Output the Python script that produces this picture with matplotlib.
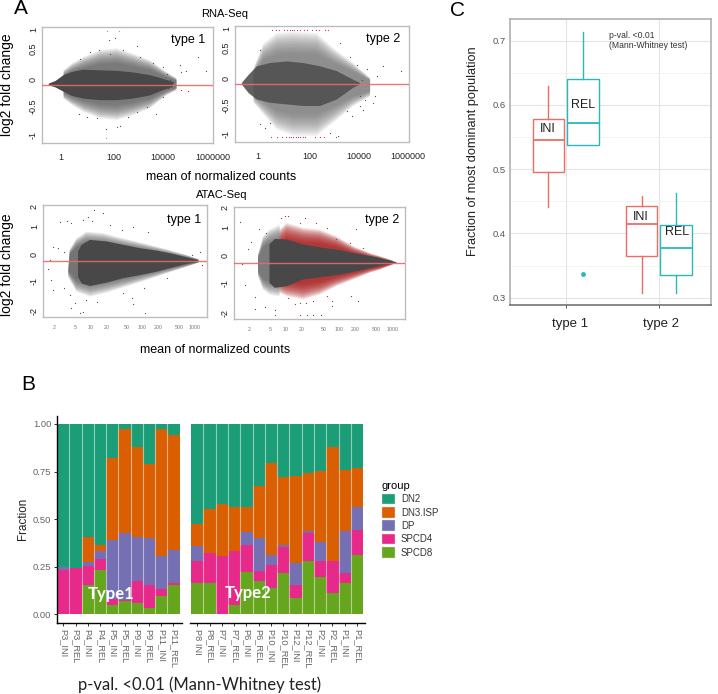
import matplotlib
matplotlib.use("Agg")
import matplotlib.pyplot as plt
from matplotlib.patches import Patch
from matplotlib.transforms import ScaledTranslation
import numpy as np

plt.rcParams['font.family'] = ['Liberation Sans', 'DejaVu Sans']

W, H = 718, 694

# ---- MA plots: outlines of the dense clouds (log10 mean, log2 fold change) ----
rna1_core_x = [-0.51, -0.23, 0.11, 0.46, 0.94, 1.63, 2.32, 3.0, 3.7, 4.25, 4.66]
rna1_core_top = [0.01, 0.06, 0.17, 0.23, 0.27, 0.26, 0.25, 0.22, 0.17, 0.10, 0.04]
rna1_core_bot = [-0.02, -0.06, -0.14, -0.22, -0.27, -0.30, -0.30, -0.27, -0.21, -0.11, -0.05]
rna1_halo_x = [0.11, 0.46, 0.94, 1.63, 2.32, 3.0, 3.7, 4.38, 4.8]
rna1_halo_top = [0.26, 0.39, 0.51, 0.64, 0.67, 0.57, 0.45, 0.23, 0.11]
rna1_halo_bot = [-0.27, -0.39, -0.52, -0.64, -0.67, -0.58, -0.45, -0.21, -0.11]
rna1_pts_x = [2.0, 2.25, 3.17, 4.94, 5.70, 5.0, 5.21, 6.04, 4.66, 5.28, 5.0, 0.76, 1.88, 2.32, 2.46, 1.49, 3.97, 3.56,
              2.8, 3.14, 1.08, 1.56, 2.04, 2.59, 3.28, 3.83, 4.25, 0.8, 1.21, 4.39, 4.52, 4.46, 4.25]
rna1_pts_y = [0.83, 0.87, 0.71, 0.36, 0.51, 0.23, 0.25, 0.24, 0.04, -0.12, -0.11, -0.55, -0.83, -0.80, -0.79, -0.64,
              -0.55, -0.42, -0.61, -0.52, -0.61, 0.64, 0.57, 0.64, 0.51, 0.39, 0.32, 0.48, 0.60, 0.2, 0.07, -0.08, -0.24]
rna1_red_x = [1.90, 2.43, 1.88]
rna1_red_y = [1.0, 1.0, -1.0]

rna2_core_x = [-0.68, -0.39, -0.04, 0.52, 1.23, 1.93, 2.63, 3.34, 4.04, 4.32]
rna2_core_top = [0.01, 0.16, 0.32, 0.38, 0.41, 0.38, 0.32, 0.23, 0.07, 0.01]
rna2_core_bot = [-0.02, -0.18, -0.30, -0.36, -0.39, -0.42, -0.42, -0.30, -0.08, -0.02]
rna2_halo_x = [-0.18, 0.24, 0.80, 1.51, 2.49, 3.2, 4.04, 4.75]
rna2_halo_top = [0.29, 0.75, 0.94, 0.97, 0.94, 0.66, 0.38, 0.10]
rna2_halo_bot = [-0.36, -0.58, -0.86, -0.98, -0.98, -0.73, -0.42, -0.24]
rna2_pts_x = [5.31, 6.08, 5.03, 4.89, 4.96, 4.46, 4.32, 3.41, 3.06, 0.1, 0.31, 0.52, 3.48, 3.9, 4.18, 4.6, 4.39, 0.1,
              3.76, 3.97, 4.32, 4.53]
rna2_pts_y = [0.32, 0.23, 0.13, -0.36, -0.24, -0.49, -0.24, -0.98, -0.92, -0.76, -0.83, -0.73, 0.75, 0.5, 0.35, 0.26,
              0.07, 0.63, -0.52, -0.61, -0.42, -0.3]
rna2_red_top_x = [0.59, 0.75, 0.9, 1.1, 1.25, 1.35, 1.45, 1.55, 1.65, 1.8, 1.95, 2.1, 2.3, 2.45, 2.6, 2.85, 2.95]
rna2_red_bot_x = [0.55, 0.8, 1.0, 1.2, 1.3, 1.4, 1.5, 1.6, 1.7, 1.8, 1.9, 2.0, 2.4, 2.65, 2.8, 3.3]

atac1_core_top_x = [0.76, 0.83, 0.99, 1.31, 1.63, 1.95, 2.27, 2.59, 2.85, 3.05]
atac1_core_top = [0.37, 0.63, 0.82, 0.76, 0.63, 0.50, 0.41, 0.28, 0.15, 0.05]
atac1_core_bot = [-0.59, -0.85, -0.95, -0.82, -0.65, -0.53, -0.40, -0.23, -0.10, -0.03]
atac1_halo_top_x = [0.60, 0.73, 0.92, 1.24, 1.63, 2.02, 2.47, 2.85, 3.08]
atac1_halo_top = [0.44, 0.88, 1.14, 1.08, 0.88, 0.69, 0.46, 0.24, 0.08]
atac1_halo_bot_x = [0.57, 0.73, 0.99, 1.31, 1.69, 2.08, 2.47, 2.85, 3.08]
atac1_halo_bot = [-0.59, -1.17, -1.36, -1.21, -0.97, -0.72, -0.46, -0.21, -0.05]
atac1_pts_x = [1.06, 1.24, 0.41, 0.54, 0.63, 0.86, 0.96, 1.02, 1.37, 1.82, 2.11, 1.6, 0.28, 0.22, 0.38, 0.5, 0.18, 0.25,
               0.28, 0.5, 0.6, 0.63, 0.79, 0.86, 0.7, 0.92, 1.12, 1.63, 1.79, 1.82, 2.05, 2.02, 2.47, 3.11, 2.95, 3.14]
atac1_pts_y = [1.97, 1.85, 1.49, 1.53, 1.46, 1.59, 1.69, 1.53, 1.40, 1.33, 1.14, 1.21, 0.56, 0.05, 0.5, 0.37, -0.31,
               -0.72, -1.1, -1.04, -1.29, -1.81, -1.97, -1.94, -1.62, -1.49, -1.55, -1.23, -1.42, -1.64, -1.97, -1.04,
               -0.65, 0.37, 0.24, -0.14]

atac2_core_x = [0.69, 0.79, 1.01, 1.32, 1.69, 2.01, 2.32, 2.69, 2.94, 3.07]
atac2_core_top = [0.71, 0.92, 0.90, 0.71, 0.58, 0.49, 0.36, 0.22, 0.09, 0.03]
atac2_core_bot = [-0.77, -0.96, -0.90, -0.64, -0.54, -0.45, -0.32, -0.15, -0.04, 0.0]
atac2_red_x = [0.88, 1.01, 1.32, 1.63, 1.94, 2.26, 2.57, 2.76, 3.0]
atac2_red_top = [1.28, 1.54, 1.35, 1.28, 1.03, 0.64, 0.38, 0.26, 0.09]
atac2_red_bot = [-1.15, -1.28, -1.41, -1.22, -0.90, -0.64, -0.38, -0.26, -0.06]
atac2_halo_x = [0.475, 0.57, 0.69, 0.82, 0.88]
atac2_halo_top = [0.32, 1.03, 1.28, 1.41, 1.47]
atac2_halo_bot = [-0.51, -1.03, -1.22, -1.28, -1.28]
atac2_pts_x = [0.14, 0.34, 0.29, 0.18, 0.24, 0.41, 0.41, 0.61, 0.79, 0.79, 0.49, 0.63, 2.31, 2.34, 2.21, 1.86, 1.86,
               1.51, 1.39, 1.65]
atac2_pts_y = [1.58, 0.81, 0.54, -0.04, -0.87, -1.32, -1.77, -1.69, -1.82, -1.99, 1.32, 1.15, 1.31, -1.47, -1.26, -1.47,
               -1.67, -1.99, -1.99, -1.99]
atac2_red_pts_x = [0.91, 0.99, 1.04, 1.35, 1.26, 1.57, 1.76, 1.16, 1.26, 1.51, 1.76, 1.94, 2.19, 2.44, 1.04, 1.38, 1.27]
atac2_red_pts_y = [1.73, 1.79, 1.82, 1.73, 1.54, 1.54, 1.35, -1.6, -1.54, -1.47, -1.28, 0.9, 0.77, 0.58, -1.35, -1.54,
                   -1.99]

rna_xticks = [1, 100, 10000, 1000000]
rna_xlabels = ['1', '100', '10000', '1000000']
atac_xticks = [2, 5, 10, 20, 50, 100, 200, 500, 1000]

# ---- stacked bars ----
groups = ['DN2', 'DN3.ISP', 'DP', 'SPCD4', 'SPCD8']
bar_colors = ['#1B9E77', '#D95F02', '#7570B3', '#E7298A', '#66A61E']

type1_samples = ['P3_INI', 'P3_REL', 'P4_INI', 'P4_REL', 'P5_INI', 'P5_REL', 'P9_INI', 'P9_REL', 'P11_INI', 'P11_REL']
# cumulative tops of the stack
type1_spcd8 = [0, 0, 0.154, 0.23, 0.05, 0.067, 0.06, 0.033, 0.095, 0.151]
type1_spcd4 = [0.233, 0.242, 0.254, 0.29, 0.079, 0.075, 0.174, 0.151, 0.133, 0.165]
type1_dp = [0.245, 0.242, 0.272, 0.333, 0.391, 0.426, 0.405, 0.398, 0.307, 0.339]
type1_dn3 = [0.245, 0.242, 0.404, 0.365, 0.819, 0.974, 0.879, 0.788, 0.974, 0.944]

type2_samples = ['P8 INI', 'P8_REL', 'P7_INI', 'P7_REL', 'P6_INI', 'P6_REL', 'P10_INI', 'P10_REL', 'P12_INI', 'P12_REL',
                 'P2_INI', 'P2_REL', 'P1_INI', 'P1_REL']
type2_spcd8 = [0.165, 0.161, 0, 0.046, 0.223, 0.174, 0.139, 0.214, 0.084, 0.277, 0.196, 0.111, 0.163, 0.309]
type2_spcd4 = [0.281, 0.319, 0.304, 0.332, 0.365, 0.225, 0.258, 0.351, 0.154, 0.426, 0.279, 0.277, 0.214, 0.444]
type2_dp = [0.356, 0.319, 0.304, 0.332, 0.432, 0.4, 0.309, 0.361, 0.267, 0.437, 0.381, 0.277, 0.437, 0.565]
type2_dn3 = [0.474, 0.553, 0.581, 0.565, 0.565, 0.675, 0.795, 0.723, 0.725, 0.744, 0.753, 0.879, 0.756, 0.768]

# ---- boxplots: low whisker, q1, median, q3, high whisker ----
ini_type1 = [0.4418, 0.4964, 0.5457, 0.5779, 0.6299]
rel_type1 = [0.5384, 0.5384, 0.5722, 0.6397, 0.7135]
rel_type1_outlier = [0.3374]
ini_type2 = [0.3078, 0.3644, 0.4148, 0.4434, 0.4584]
rel_type2 = [0.3078, 0.3348, 0.3769, 0.4138, 0.4626]


def px_axes(left, top, right, bottom):
    return fig.add_axes([left / W, 1 - bottom / H, (right - left) / W, (bottom - top) / H])


def px_text(x, y, s, **kw):
    kw.setdefault('ha', 'center')
    kw.setdefault('va', 'center')
    fig.text(x / W, 1 - y / H, s, **kw)


def shift_labels(labels, dx=None, dy=None):
    # the panels were pasted together, labels do not sit exactly on their ticks
    for i, lab in enumerate(labels):
        ox = dx[i] if dx else 0
        oy = dy[i] if dy else 0
        lab.set_transform(lab.get_transform() + ScaledTranslation(ox / 100, oy / 100, fig.dpi_scale_trans))


def blob(ax, x_top, y_top, x_bot, y_bot, color, alpha=1.0):
    xs = np.concatenate([np.array(x_top), np.array(x_bot)[::-1]])
    ys = np.concatenate([np.array(y_top), np.array(y_bot)[::-1]])
    ax.fill(10.0 ** xs, ys, color=color, alpha=alpha, lw=0, zorder=2)


def fade(ax, x_top, y_top, x_bot, y_bot, color, alpha):
    # the cloud thins out towards its edge, so stack many shrinking copies of the outline
    for f in np.arange(1.0, 0.55, -0.03):
        blob(ax, x_top, f * np.array(y_top), x_bot, f * np.array(y_bot), color, alpha)


def dots(ax, x, y, color='#4d4d4d'):
    ax.scatter(10.0 ** np.array(x), y, s=0.8, color=color, lw=0, zorder=3)


def ma_style(ax, xlim, ylim, yticks, red_y):
    ax.set_xscale('log')
    ax.set_xlim(10.0 ** xlim[0], 10.0 ** xlim[1])
    ax.set_ylim(*ylim)
    ax.axhline(red_y, color='#e8686c', lw=1.0, alpha=0.9, zorder=4)
    ax.set_yticks(yticks)
    ax.set_yticklabels([('%g' % t) for t in yticks], rotation=90, va='center', fontsize=6.5, color='#222222')
    ax.tick_params(axis='y', length=0, pad=3)
    ax.minorticks_off()
    for s in ax.spines.values():
        s.set_color('#bdbdbd')
        s.set_linewidth(1.0)


def rna_axis(ax, dx):
    ax.set_xticks(rna_xticks)
    ax.set_xticklabels(rna_xlabels, fontsize=6.5, color='#222222')
    ax.tick_params(axis='x', length=0, pad=7)
    ax.minorticks_off()
    shift_labels(ax.get_xticklabels(), dx=dx)


def atac_axis(ax):
    ax.set_xticks(atac_xticks)
    ax.set_xticklabels([str(t) for t in atac_xticks], fontsize=3.8, color='#777777')
    ax.tick_params(axis='x', length=0, pad=6)
    ax.minorticks_off()


fig = plt.figure(figsize=(W / 100, H / 100), dpi=100)

# ---- A: RNA type 1 ----
ax = px_axes(42, 27, 213, 143)
fade(ax, rna1_halo_x, rna1_halo_top, rna1_halo_x, rna1_halo_bot, '#555555', 0.09)
blob(ax, rna1_core_x, rna1_core_top, rna1_core_x, rna1_core_bot, '#484848')
dots(ax, rna1_pts_x, rna1_pts_y)
dots(ax, rna1_red_x, rna1_red_y, '#e08080')
ma_style(ax, (-0.79, 6.32), (-1.1, 1.07), [-1, -0.5, 0, 0.5, 1], -0.01)
rna_axis(ax, [0, 5, 6, 8])
shift_labels(ax.get_yticklabels(), dy=[3, 5, 5, 9, 1])

# ---- A: RNA type 2 ----
ax = px_axes(235, 26, 409, 142)
fade(ax, rna2_halo_x, rna2_halo_top, rna2_halo_x, rna2_halo_bot, '#666666', 0.08)
blob(ax, rna2_core_x, rna2_core_top, rna2_core_x, rna2_core_bot, '#505050', 0.9)
dots(ax, rna2_pts_x, rna2_pts_y)
dots(ax, rna2_red_top_x, [1.0] * len(rna2_red_top_x), '#c04050')
dots(ax, rna2_red_bot_x, [-1.0] * len(rna2_red_bot_x), '#c04050')
ma_style(ax, (-0.97, 6.4), (-1.09, 1.07), [-1, -0.5, 0, 0.5, 1], -0.01)
rna_axis(ax, [0, 5, 6, 8])
shift_labels(ax.get_yticklabels(), dy=[3, 5, 5, 9, 1])

# ---- A: ATAC type 1 ----
ax = px_axes(43, 205, 207, 317)
fade(ax, atac1_halo_top_x, atac1_halo_top, atac1_halo_bot_x, atac1_halo_bot, '#555555', 0.1)
blob(ax, atac1_core_top_x, atac1_core_top, atac1_core_top_x, atac1_core_bot, '#484848')
dots(ax, atac1_pts_x, atac1_pts_y)
ma_style(ax, (0.087, 3.24), (-2.14, 2.16), [-2, -1, 0, 1, 2], 0)
atac_axis(ax)
shift_labels(ax.get_yticklabels(), dy=[2, 6, 7, 9, 3])

# ---- A: ATAC type 2 ----
ax = px_axes(234, 207, 405, 319)
fade(ax, atac2_halo_x, atac2_halo_top, atac2_halo_x, atac2_halo_bot, '#555555', 0.09)
fade(ax, atac2_red_x, atac2_red_top, atac2_red_x, atac2_red_bot, '#a81c1c', 0.12)
blob(ax, atac2_core_x, atac2_core_top, atac2_core_x, atac2_core_bot, '#484848')
dots(ax, atac2_pts_x, atac2_pts_y)
dots(ax, atac2_red_pts_x, atac2_red_pts_y, '#b02a2a')
ma_style(ax, (0.025, 3.23), (-2.16, 2.15), [-2, -1, 0, 1, 2], 0)
atac_axis(ax)
shift_labels(ax.get_yticklabels(), dy=[2, 6, 7, 9, 3])

px_text(225, 14, 'RNA-Seq', fontsize=8)
px_text(222, 195, 'ATAC-Seq', fontsize=8)
px_text(7, 85, 'log2 fold change', fontsize=10, rotation=90)
px_text(7, 265, 'log2 fold change', fontsize=10, rotation=90)
px_text(221, 177, 'mean of normalized counts', fontsize=9)
px_text(215, 350, 'mean of normalized counts', fontsize=9)
px_text(188, 40, 'type 1', fontsize=9)
px_text(383, 39, 'type 2', fontsize=9)
px_text(184, 220, 'type 1', fontsize=9)
px_text(382, 220, 'type 2', fontsize=9)
px_text(21, 9, 'A', fontsize=15)
px_text(28, 385, 'B', fontsize=15)
px_text(457, 11, 'C', fontsize=15)


# ---- B ----
def stacked(ax, samples, spcd8, spcd4, dp, dn3):
    x = np.arange(len(samples))
    tops = [np.ones(len(samples)), np.array(dn3), np.array(dp), np.array(spcd4), np.array(spcd8)]
    bottoms = [np.array(dn3), np.array(dp), np.array(spcd4), np.array(spcd8), np.zeros(len(samples))]
    for t, b, c in zip(tops, bottoms, bar_colors):
        ax.bar(x, t - b, bottom=b, width=1.0, color=c, lw=0)
    # pale seams between the columns
    for edge in x[:-1] + 0.5:
        ax.plot([edge, edge], [0, 1], color='white', alpha=0.5, lw=0.8, zorder=3)
    ax.set_ylim(-0.047, 1.042)
    ax.set_xticks(x)
    ax.set_xticklabels(samples, rotation=270, fontsize=6.7, color='#666666', ha='center', va='top')
    ax.tick_params(axis='x', length=2.5, width=0.7, color='#333333', pad=1.5)
    ax.spines['top'].set_visible(False)
    ax.spines['right'].set_visible(False)
    ax.spines['bottom'].set_linewidth(1.0)


ax = px_axes(57, 416, 182, 623)
stacked(ax, type1_samples, type1_spcd8, type1_spcd4, type1_dp, type1_dn3)
ax.set_xlim(-0.52, 9.7)
ax.set_yticks([0, 0.25, 0.5, 0.75, 1.0])
ax.set_yticklabels(['0.00', '0.25', '0.50', '0.75', '1.00'], fontsize=6.8, color='#666666')
ax.tick_params(axis='y', length=2.5, width=0.7, color='#333333', pad=1.5)
ax.spines['left'].set_linewidth(1.0)

ax = px_axes(190, 416, 365, 623)
stacked(ax, type2_samples, type2_spcd8, type2_spcd4, type2_dp, type2_dn3)
ax.set_xlim(-0.594, 13.645)
ax.set_yticks([])
ax.spines['left'].set_visible(False)

px_text(23, 519, 'Fraction', fontsize=8.4, rotation=90, color='#222222')
px_text(111, 594, 'Type1', fontsize=12, color='white', fontweight='bold', family=['Lato', 'DejaVu Sans'])
px_text(248, 593, 'Type2', fontsize=12, color='white', fontweight='bold', family=['Lato', 'DejaVu Sans'])
px_text(200, 685, 'p-val. <0.01 (Mann-Whitney test)', fontsize=12, color='#222222', family=['Lato', 'DejaVu Sans'])

handles = [Patch(facecolor=c, edgecolor='#dddddd', lw=0.3, label=g) for c, g in zip(bar_colors, groups)]
leg = fig.legend(handles=handles, title='group', loc='upper left', bbox_to_anchor=(382 / W, 1 - 481 / H),
                 frameon=False, fontsize=7, title_fontsize=8, handlelength=1.3, handleheight=1.3, labelspacing=0.28,
                 handletextpad=0.65, borderpad=0, borderaxespad=0, alignment='left')
for t in leg.get_texts():
    t.set_color('#333333')

# ---- C ----
ax = px_axes(510, 19, 711, 305)
ax.set_xlim(0.401, 2.559)
ax.set_ylim(0.2886, 0.7338)
ax.set_yticks([0.3, 0.4, 0.5, 0.6, 0.7])
ax.set_yticks([0.35, 0.45, 0.55, 0.65], minor=True)
ax.set_xticks([1, 2])
ax.grid(True, which='major', color='#e4e4e4', lw=0.8)
ax.grid(True, which='minor', axis='y', color='#eeeeee', lw=0.5)
ax.set_axisbelow(True)


def box_stats(vals, fliers=()):
    return dict(whislo=vals[0], q1=vals[1], med=vals[2], q3=vals[3], whishi=vals[4], fliers=list(fliers))


def draw_boxes(stats, positions, color):
    line = dict(color=color, lw=1.0)
    ax.bxp(stats, positions=positions, widths=0.34, patch_artist=True, showcaps=False, manage_ticks=False,
           boxprops=dict(facecolor='white', edgecolor=color, lw=1.0), whiskerprops=line,
           medianprops=dict(color=color, lw=1.3),
           flierprops=dict(marker='o', markersize=2.5, markerfacecolor=color, markeredgecolor=color))


draw_boxes([box_stats(ini_type1), box_stats(ini_type2)], [1 - 0.186, 2 - 0.186], '#EC6D64')
draw_boxes([box_stats(rel_type1, rel_type1_outlier), box_stats(rel_type2)], [1 + 0.186, 2 + 0.186], '#2BB8BC')

ax.text(1 - 0.19, 0.5628, 'INI', fontsize=9, ha='center', va='center', color='#222222')
ax.text(1 + 0.19, 0.5997, 'REL', fontsize=9, ha='center', va='center', color='#222222')
ax.text(2 - 0.2, 0.4257, 'INI', fontsize=9, ha='center', va='center', color='#222222')
ax.text(2 + 0.2, 0.4029, 'REL', fontsize=9, ha='center', va='center', color='#222222')

ax.set_yticklabels(['0.3', '0.4', '0.5', '0.6', '0.7'], fontsize=6.8, color='#555555')
ax.set_xticklabels(['type 1', 'type 2'], fontsize=9.5, color='#222222')
ax.tick_params(axis='x', which='major', length=2.5, width=0.7, color='#555555', pad=7)
ax.tick_params(axis='y', which='major', length=0, pad=3)
ax.tick_params(axis='y', which='minor', length=0)
shift_labels(ax.get_xticklabels(), dx=[4, 2])
for name, s in ax.spines.items():
    s.set_color('#aaaaaa' if name != 'bottom' else '#666666')
    s.set_linewidth(1.1)

px_text(473, 151, 'Fraction of most dominant population', fontsize=9.2, rotation=90, color='#222222')
px_text(609, 35, 'p-val. <0.01', fontsize=6.2, ha='left', color='#333333')
px_text(609, 46, '(Mann-Whitney test)', fontsize=6.2, ha='left', color='#333333')

fig.savefig('out.png', dpi=100)
